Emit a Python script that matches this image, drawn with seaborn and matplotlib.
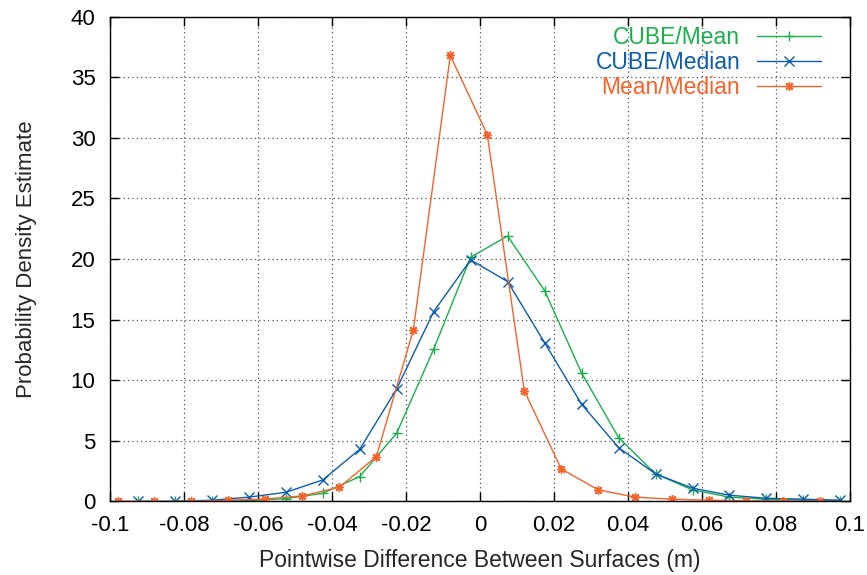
import numpy as np
import pandas as pd
import matplotlib
matplotlib.use("Agg")
import matplotlib.pyplot as plt
import seaborn as sns

# x positions of the estimates
x_cube = [-0.0925, -0.0825, -0.0725, -0.0625, -0.0525, -0.0425, -0.0325, -0.0225, -0.0125, -0.0025,
          0.0075, 0.0175, 0.0275, 0.0375, 0.0475, 0.0575, 0.0675, 0.0775, 0.0875, 0.0975]
x_mm = [-0.098, -0.088, -0.078, -0.068, -0.058, -0.048, -0.038, -0.028, -0.018, -0.008,
        0.002, 0.012, 0.022, 0.032, 0.042, 0.052, 0.062, 0.072, 0.082, 0.092]

cube_mean = [0.0, 0.0, 0.03, 0.05, 0.23, 0.67, 2.05, 5.63, 12.56, 20.15,
             21.9, 17.4, 10.6, 5.27, 2.27, 0.95, 0.35, 0.18, 0.1, 0.05]
cube_median = [0.0, 0.0, 0.1, 0.35, 0.75, 1.77, 4.3, 9.28, 15.66, 19.93,
               18.14, 13.1, 8.02, 4.44, 2.27, 1.09, 0.51, 0.26, 0.18, 0.1]
mean_median = [0.03, 0.0, 0.0, 0.1, 0.2, 0.45, 1.17, 3.7, 14.15, 36.8,
               30.27, 9.14, 2.68, 0.95, 0.35, 0.18, 0.1, 0.05, 0.03, 0.02]

labels = ["CUBE/Mean", "CUBE/Median", "Mean/Median"]
colors = ["#18b04a", "#0c5cb0", "#f5622a"]
markers = ["+", "x", (8, 2, 0)]

x_ticks = [-0.1, -0.08, -0.06, -0.04, -0.02, 0, 0.02, 0.04, 0.06, 0.08, 0.1]
x_tick_labels = ["-0.1", "-0.08", "-0.06", "-0.04", "-0.02", "0", "0.02", "0.04", "0.06", "0.08", "0.1"]
y_ticks = [0, 5, 10, 15, 20, 25, 30, 35, 40]

sns.set_theme(style="ticks")
plt.rcParams["font.family"] = ["Liberation Sans", "DejaVu Sans"]

fig = plt.figure(figsize=(8.67, 5.75), dpi=100)
ax = fig.add_axes([0.127, 0.128, 0.853, 0.843])

series = [(x_cube, cube_mean), (x_cube, cube_median), (x_mm, mean_median)]
for (xs, ys), lab, col, mk in zip(series, labels, colors, markers):
    df = pd.DataFrame({"x": xs, "y": ys})
    sns.lineplot(data=df, x="x", y="y", ax=ax, color=col, marker=mk, markersize=6.5,
                 markeredgecolor=col, markerfacecolor=col, markeredgewidth=1.0,
                 linewidth=1.0, label=lab, estimator=None)

ax.set_xlim(-0.1, 0.1)
ax.set_ylim(0, 40)
ax.set_xticks(x_ticks)
ax.set_xticklabels(x_tick_labels)
ax.set_yticks(y_ticks)
ax.tick_params(direction="in", length=6.5, width=1, top=True, right=True,
               labelsize=16, colors="black")
ax.tick_params(axis="y", pad=10.5)
ax.tick_params(axis="x", pad=10)
ax.grid(True, linestyle=(0, (1, 2.5)), color="#555555", linewidth=0.9)
for s in ax.spines.values():
    s.set_color("black")
    s.set_linewidth(1.0)
ax.set_xlabel("Pointwise Difference Between Surfaces (m)", fontsize=16.5, labelpad=9)
ax.set_ylabel("Probability Density Estimate", fontsize=16, labelpad=24)

leg = ax.legend(loc="upper right", bbox_to_anchor=(0.961, 0.98), frameon=False,
                markerfirst=False, fontsize=16.5, labelspacing=0.07, handlelength=2.8,
                handletextpad=0.72, borderaxespad=0.0, borderpad=0.0,
                labelcolor="linecolor")
for h in leg.legend_handles:
    h.set_markersize(6.5)

fig.savefig("out.png", dpi=100)
